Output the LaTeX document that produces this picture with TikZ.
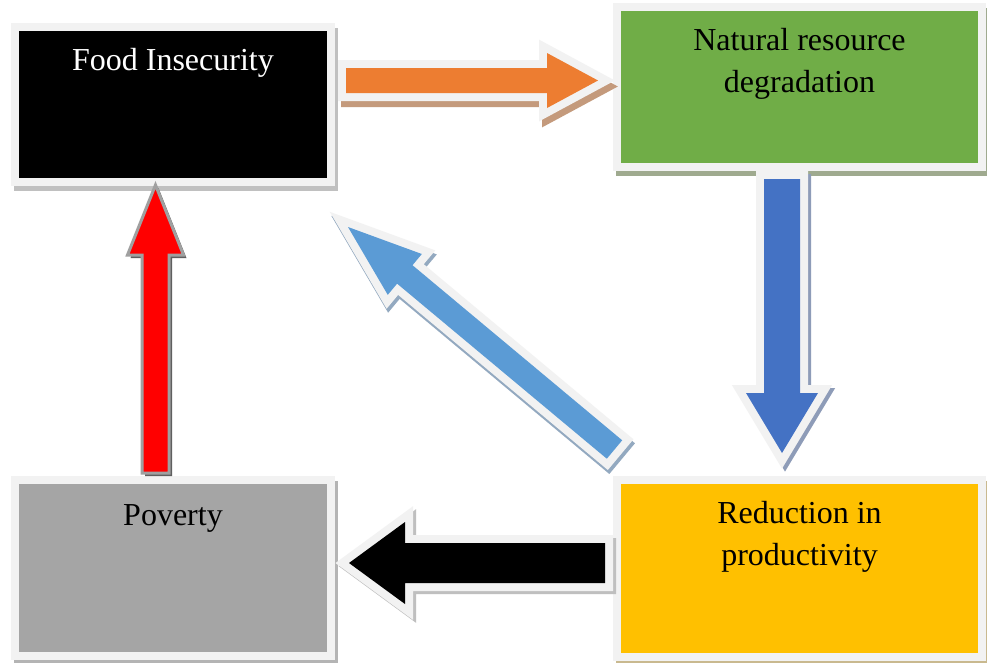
\documentclass[tikz,border=0pt]{standalone}
\usepackage{fontspec}
\setmainfont{Liberation Serif}
\usetikzlibrary{calc,backgrounds}
\newdimen\pxu \pxu=0.75pt
\definecolor{lightb}{HTML}{F2F2F2}
\definecolor{nrgreen}{HTML}{70AD47}
\definecolor{pvgray}{HTML}{A5A5A5}
\definecolor{rpyellow}{HTML}{FFC000}
\definecolor{arorange}{HTML}{ED7D31}
\definecolor{ardblue}{HTML}{4472C4}
\definecolor{arlblue}{HTML}{5B9BD5}
\definecolor{arred}{HTML}{FF0000}
\definecolor{fishadow}{HTML}{C0C0C0}
\definecolor{nrshadow}{HTML}{9FAA8F}
\definecolor{pvshadow}{HTML}{B4B4B4}
\definecolor{rpshadow}{HTML}{C9B98F}
\definecolor{orshadow}{HTML}{C49A7C}
\definecolor{dbshadow}{HTML}{8E9CB8}
\definecolor{lbshadow}{HTML}{93A9C0}
\definecolor{bkshadow}{HTML}{BFBFBF}
\definecolor{rdborder}{HTML}{A0A0A0}
\definecolor{rdshadow}{HTML}{5F5F5F}
\tikzset{
  boxnode/.style={rectangle, draw=lightb, line width=6pt, inner sep=3pt, outer sep=0pt, anchor=north west},
}
\newcommand\boxtext[4]{\parbox[t][#2\pxu][t]{#1\pxu}{\centering\fontsize{24pt}{31.5pt}\selectfont\rule{0pt}{#3\pxu}#4\par}}
\newcommand\boxshadow[2]{\fill[#2] ([shift={(-1,1)}]#1.north west) rectangle ([shift={(7,9)}]#1.south east);}
% #1 style, #2 tail, #3 tip, #4 half shaft, #5 half head, #6 head length
\newcommand\blockarrow[6]{%
  \coordinate (bah) at ($(#3)!#6!(#2)$);
  \path[#1] ($(#2)!#4!90:(#3)$) -- ($(bah)!#4!90:(#3)$) -- ($(bah)!#5!90:(#3)$) -- (#3)
    -- ($(bah)!#5!-90:(#3)$) -- ($(bah)!#4!-90:(#3)$) -- ($(#2)!#4!-90:(#3)$) -- cycle;}
% #1 fill, #2 shadow colour, #3 shadow shift, #4 tail, #5 tip, #6 hs, #7 hh, #8 hl
\newcommand\fancyarrow[8]{%
  \blockarrow{fill=#2, draw=#2, line width=12pt, line join=miter, transform canvas={shift={#3}}}{#4}{#5}{#6}{#7}{#8}
  \blockarrow{fill=lightb, draw=lightb, line width=12pt, line join=miter}{#4}{#5}{#6}{#7}{#8}
  \blockarrow{fill=#1}{#4}{#5}{#6}{#7}{#8}}
\begin{document}
\begin{tikzpicture}[x=0.75pt,y=-0.75pt]
\useasboundingbox (0,0) rectangle (987,662);
% boxes
\node[boxnode, fill=black, text=white] (fi) at (15,27) {\boxtext{308}{147}{39}{Food Insecurity}};
\node[boxnode, fill=nrgreen] (nr) at (617,7) {\boxtext{357}{152}{39}{Natural resource\\degradation}};
\node[boxnode, fill=pvgray] (pv) at (15,480) {\boxtext{308}{168}{41}{Poverty}};
\node[boxnode, fill=rpyellow] (rp) at (617,480) {\boxtext{357}{169}{39}{Reduction in\\productivity}};
\begin{scope}[on background layer]
  \fill[white] (0,0) rectangle (987,662);
  \boxshadow{fi}{fishadow}
  \boxshadow{nr}{nrshadow}
  \boxshadow{pv}{pvshadow}
  \boxshadow{rp}{rpshadow}
\end{scope}
% arrow end points
\coordinate (o-tail) at (346,80.5);   \coordinate (o-tip) at (598,80.5);
\coordinate (d-tail) at (782,179);    \coordinate (d-tip) at (782,453);
\coordinate (g-tail) at (614.5,449.5);\coordinate (g-tip) at (348,227);
\coordinate (k-tail) at (605,563);    \coordinate (k-tip) at (349,563);
\coordinate (r-tail) at (155.5,473);  \coordinate (r-tip) at (155.5,185);
% arrows
\fancyarrow{arorange}{orshadow}{(3,6)}{o-tail}{o-tip}{9.375pt}{20.625pt}{38.25pt}
\fancyarrow{ardblue}{dbshadow}{(3,3)}{d-tail}{d-tip}{13.5pt}{27pt}{45pt}
\fancyarrow{arlblue}{lbshadow}{(1.5,4)}{g-tail}{g-tip}{9pt}{19.95pt}{55.5pt}
\fancyarrow{black}{bkshadow}{(3,3)}{k-tail}{k-tip}{15pt}{30.75pt}{42pt}
\blockarrow{fill=rdshadow, transform canvas={shift={(3,3)}}}{r-tail}{r-tip}{10.125pt}{21pt}{52.5pt}
\blockarrow{fill=arred, draw=rdborder, line width=2.25pt, line join=miter}{r-tail}{r-tip}{10.125pt}{21pt}{52.5pt}
\end{tikzpicture}
\end{document}
